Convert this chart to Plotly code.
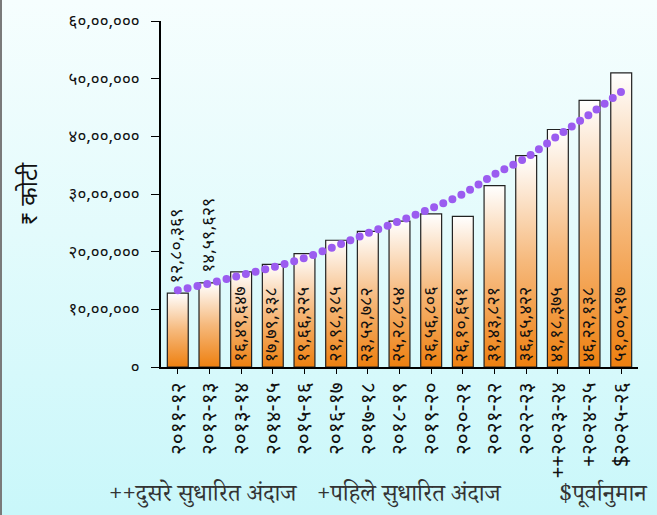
import plotly.graph_objects as go

categories = ["२०११-१२", "२०१२-१३", "२०१३-१४", "२०१४-१५", "२०१५-१६", "२०१६-१७",
              "२०१७-१८", "२०१८-१९", "२०१९-२०", "२०२०-२१", "२०२१-२२", "२०२२-२३",
              "++२०२३-२४", "+२०२४-२५", "$२०२५-२६"]
gsdp = [1280369, 1459629, 1649647, 1779138, 1966225, 2198185, 2352782, 2528854,
        2656806, 2610651, 3143821, 3665422, 4118375, 4622138, 5100517]
trend = [1330000, 1450000, 1590000, 1730000, 1890000, 2100000, 2320000, 2530000,
         2750000, 3000000, 3340000, 3630000, 4010000, 4380000, 4770000]
y_ticks = [0, 1000000, 2000000, 3000000, 4000000, 5000000, 6000000]
outside_label = [True, True] + [False] * 13
footnotes = ["++दुसरे सुधारित अंदाज", "+पहिले सुधारित अंदाज", "$पूर्वानुमान"]
footnote_x = [-0.113, 0.322, 0.830]
y_title = "₹ कोटी"

DEV = str.maketrans("0123456789", "०१२३४५६७८९")


def indian(n):
    s = str(int(n))
    if len(s) <= 3:
        out = s
    else:
        head, tail = s[:-3], s[-3:]
        parts = []
        while len(head) > 2:
            parts.insert(0, head[-2:])
            head = head[:-2]
        if head:
            parts.insert(0, head)
        out = ",".join(parts + [tail])
    return out.translate(DEV)


FONT = "Noto Sans Devanagari, Noto Sans, DejaVu Sans, sans-serif"
BAR_W = 0.33

fig = go.Figure()
for i, v in enumerate(gsdp):
    fig.add_trace(go.Scatter(
        x=[i - BAR_W, i - BAR_W, i + BAR_W, i + BAR_W, i - BAR_W],
        y=[0, v, v, 0, 0],
        mode="lines", fill="toself",
        fillgradient=dict(type="vertical",
                          colorscale=[[0, "#ee8010"], [0.5, "#f6b97c"], [1, "#ffffff"]]),
        line=dict(color="#222222", width=1.2),
        hoverinfo="skip", showlegend=False,
    ))

fig.add_trace(go.Scatter(
    x=list(range(len(categories))), y=trend, mode="lines",
    line=dict(color="#9b5cf0", width=8, dash="0px,10px", shape="spline"),
    showlegend=False, hoverinfo="skip",
))

for i, v in enumerate(gsdp):
    if outside_label[i]:
        fig.add_annotation(x=i, y=v, yanchor="bottom", yshift=8, text=indian(v),
                           textangle=-90, showarrow=False,
                           font=dict(family=FONT, size=18, color="#111111"))
    else:
        fig.add_annotation(x=i, y=0, yanchor="bottom", yshift=3, text=indian(v),
                           textangle=-90, showarrow=False,
                           font=dict(family=FONT, size=18, color="#111111"))

for txt, fx in zip(footnotes, footnote_x):
    fig.add_annotation(xref="paper", yref="paper", x=fx, xanchor="left", y=0,
                       yanchor="middle", yshift=-130, text=txt, showarrow=False,
                       font=dict(family="Noto Serif Devanagari, " + FONT, size=24,
                                 color="#333333"))

fig.update_layout(
    width=657, height=515,
    margin=dict(l=159, r=21, t=17, b=148),
    paper_bgcolor="rgba(0,0,0,0)", plot_bgcolor="rgba(0,0,0,0)",
    font=dict(family=FONT, color="#111111"),
    xaxis=dict(range=[-0.53, 14.53], tickmode="array",
               tickvals=list(range(len(categories))), ticktext=categories,
               tickangle=-90, tickfont=dict(size=21), showgrid=False, zeroline=False,
               showline=True, linecolor="#000000", linewidth=2,
               ticks="outside", ticklen=5, tickcolor="#000000"),
    yaxis=dict(range=[0, 6000000], tickmode="array", tickvals=y_ticks,
               ticktext=[indian(t) for t in y_ticks], tickfont=dict(size=17),
               ticklabelstandoff=8,
               showgrid=False, zeroline=False, showline=True, linecolor="#000000",
               linewidth=2, ticks="outside", ticklen=8, tickcolor="#000000",
               title=dict(text=y_title, font=dict(size=24), standoff=24)),
)

post = """
var gd = document.getElementById('{plot_id}');
gd.style.background = 'linear-gradient(to bottom, #f6fefe 0%, #e3fbfc 45%, #c9f7fa 100%)';
gd.style.borderLeft = '2px solid #7a7a7a';
gd.style.boxSizing = 'border-box';
document.body.style.margin = '0';
var paths = gd.querySelectorAll('.scatterlayer .trace:last-child .js-line');
paths.forEach(function(p){ p.style.strokeLinecap = 'round'; });
"""
fig.write_html("out.html", post_script=post)
